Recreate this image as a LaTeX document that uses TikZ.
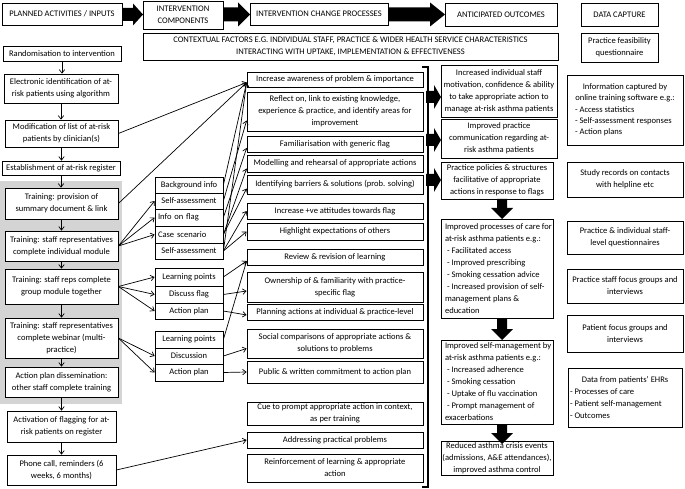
\documentclass[tikz,border=0pt]{standalone}
\usepackage{fontspec}
\setmainfont{Carlito}
\usetikzlibrary{arrows.meta}
\newcommand\fs{\fontsize{8.55}{12}\selectfont}
\tikzset{
 box/.style={draw, line width=0.75pt, fill=white, inner sep=1pt, align=center, font=\fs},
 arr/.style={-{Straight Barb[length=3.5pt,width=5.5pt]}, line width=0.7pt},
 bigarrow/.style={fill=black},
 bracketline/.style={line width=1.2pt},
}
% \bx[style]{name}{x1}{y1}{x2}{y2}{text}
\newcommand\bx[7][]{%
 \pgfmathsetmacro\bxw{#5-#3}\pgfmathsetmacro\bxh{#6-#4}%
 \pgfmathsetmacro\bxx{(#3+#5)/2}\pgfmathsetmacro\bxy{(#4+#6)/2}%
 \node[box,minimum width=\bxw pt,minimum height=\bxh pt,#1] (#2) at (\bxx,\bxy) {#7};}
% right arrow: x-start, head-start, tip, y-centre, shaft half, head half
\newcommand\rarr[6]{\fill[bigarrow] (#1,#4-#5) -- (#2,#4-#5) -- (#2,#4-#6) -- (#3,#4) -- (#2,#4+#6) -- (#2,#4+#5) -- (#1,#4+#5) -- cycle;}
% down arrow: x-centre, y-start, head-start, tip, shaft half, head half
\newcommand\darr[6]{\fill[bigarrow] (#1-#5,#2) -- (#1-#5,#3) -- (#1-#6,#3) -- (#1,#4) -- (#1+#6,#3) -- (#1+#5,#3) -- (#1+#5,#2) -- cycle;}
\newcommand\itm[2]{\makebox[#1pt][l]{#2}}
\newcommand\lline[2]{\makebox[110pt][l]{\hspace{#1pt}#2}}
\begin{document}
\begin{tikzpicture}[x=1pt,y=-1pt]
\useasboundingbox (0,0) rectangle (685,489);
% ---------- header ----------
\bx{H1}{2}{3}{122}{25}{PLANNED ACTIVITIES / INPUTS}
\bx{H2}{143}{1}{223}{29}{INTERVENTION\\COMPONENTS}
\bx{H3}{250}{3}{388}{25}{INTERVENTION CHANGE PROCESSES}
\bx{H4}{445}{3}{557}{26}{ANTICIPATED OUTCOMES}
\bx{H5}{581}{3}{658}{26}{DATA CAPTURE}
\rarr{122}{133}{143}{14.5}{6.5}{11}
\rarr{223}{238}{250}{14.5}{7}{12}
\rarr{388}{430}{445}{14.5}{7}{12}
\bx{CTX}{143}{33}{558}{60}{CONTEXTUAL FACTORS E.G. INDIVIDUAL STAFF, PRACTICE \& WIDER HEALTH SERVICE CHARACTERISTICS\\INTERACTING WITH UPTAKE, IMPLEMENTATION \& EFFECTIVENESS}
% ---------- left column ----------
\fill[black!17] (0,181) rectangle (122,404);
\bx{L1}{3}{46}{121}{61}{Randomisation to intervention}
\bx{L2}{4}{74}{118}{103}{Electronic identification of at-\\risk patients using algorithm}
\bx{L3}{5}{120}{118}{147}{Modification of list of at-risk\\patients by clinician(s)}
\bx{L4}{2}{161}{120}{175}{Establishment of at-risk register}
\bx{T1}{5}{188}{118}{219}{Training: provision of\\summary document \& link}
\bx{T2}{5}{231}{118}{261}{Training: staff representatives\\complete individual module}
\bx{T3}{5}{269}{118}{304}{Training: staff reps complete\\group module together}
\bx{T4}{5}{318}{118}{358}{Training: staff representatives\\complete webinar (multi-\\practice)}
\bx{L5}{5}{367}{118}{397}{Action plan dissemination:\\other staff complete training}
\bx{L6}{7}{411}{116}{442}{Activation of flagging for at-\\risk patients on register}
\bx{L7}{7}{455}{116}{485}{Phone call, reminders (6\\weeks, 6 months)}
\draw[arr] (L1.south) -- (L1.south |- L2.north);
\draw[arr] (L2.south) -- (L2.south |- L3.north);
\draw[arr] (L3.south) -- (L3.south |- L4.north);
\draw[arr] (L4.south) -- (L4.south |- T1.north);
\draw[arr] (T1.south) -- (T1.south |- T2.north);
\draw[arr] (T2.south) -- (T2.south |- T3.north);
\draw[arr] (T3.south) -- (T3.south |- T4.north);
\draw[arr] (T4.south) -- (T4.south |- L5.north);
\draw[arr] (L5.south) -- (L5.south |- L6.north);
\draw[arr] (L6.south) -- (L6.south |- L7.north);
% ---------- components ----------
\bx{A1}{155}{177}{223}{193}{Background info}
\bx{A2}{155}{193}{223}{209}{Self-assessment}
\bx[text width=62pt,align=left]{A3}{155}{209}{223}{226}{Info on flag}
\bx[text width=62pt,align=left]{A4}{155}{226}{223}{243}{Case scenario}
\bx{A5}{155}{243}{223}{259}{Self-assessment}
\bx{B1}{155}{268}{223}{286}{Learning points}
\bx{B2}{155}{286}{223}{303}{Discuss flag}
\bx{B3}{155}{303}{223}{319}{Action plan}
\bx{C1}{155}{331}{223}{348}{Learning points}
\bx{C2}{155}{348}{223}{364}{Discussion}
\bx{C3}{155}{364}{223}{381}{Action plan}
% ---------- change processes ----------
\bx{P1}{247}{72}{423}{87}{Increase awareness of problem \& importance}
\bx{P2}{247}{92}{423}{131}{Reflect on, link to existing knowledge,\\experience \& practice, and identify areas for\\improvement}
\bx{P3}{247}{136}{423}{152}{Familiarisation with generic flag}
\bx{P4}{247}{155}{423}{172}{Modelling and rehearsal of appropriate actions}
\bx{P5}{247}{175}{423}{194}{Identifying barriers \& solutions (prob. solving)}
\bx{P6}{247}{203}{423}{219}{Increase +ve attitudes towards flag}
\bx{P7}{247}{223}{423}{240}{Highlight expectations of others}
\bx{P8}{247}{249}{423}{265}{Review \& revision of learning}
\bx{P9}{247}{272}{423}{302}{Ownership of \& familiarity with practice-\\specific flag}
\bx{P10}{247}{304}{423}{320}{Planning actions at individual \& practice-level}
\bx{P11}{247}{329}{423}{358}{Social comparisons of appropriate actions \&\\solutions to problems}
\bx{P12}{247}{361}{423}{383}{Public \& written commitment to action plan}
\bx{P13}{247}{402}{423}{425}{Cue to prompt appropriate action in context,\\as per training}
\bx{P14}{247}{432}{423}{448}{Addressing practical problems}
\bx{P15}{247}{454}{423}{482}{Reinforcement of learning \& appropriate\\action}
\draw[bracketline] (422,67) -- (428,67) -- (428,487) -- (422,487);
% ---------- outcomes ----------
\bx{O1}{441}{65}{557}{117}{Increased individual staff\\motivation, confidence \& ability\\to take appropriate action to\\manage at-risk asthma patients}
\bx{O2}{441}{119}{557}{158}{Improved practice\\communication regarding at-\\risk asthma patients}
\bx{O3}{441}{162}{553}{199}{Practice policies \& structures\\facilitative of appropriate\\actions in response to flags}
\bx[inner sep=0pt]{O4}{441}{219}{553}{318}{\lline{3}{Improved processes of care for}\\\lline{3}{at-risk asthma patients e.g.:}\\\lline{5}{- Facilitated access}\\\lline{5}{- Improved prescribing}\\\lline{5}{- Smoking cessation advice}\\\lline{5}{- Increased provision of self-}\\\lline{3}{management plans \&}\\\lline{3}{education}}
\bx[inner sep=0pt]{O5}{441}{340}{553}{424}{\lline{3}{Improved self-management by}\\\lline{3}{at-risk asthma patients e.g.:}\\\lline{5}{- Increased adherence}\\\lline{5}{- Smoking cessation}\\\lline{5}{- Uptake of flu vaccination}\\\lline{5}{- Prompt management of}\\\lline{3}{exacerbations}}
\bx{O6}{441}{444}{553}{473}{Reduced asthma crisis events\\(admissions, A\&E attendances),\\improved asthma control}
\rarr{426}{434}{441}{97}{6}{12}
\rarr{426}{434}{441}{140}{6}{12}
\rarr{426}{434}{441}{180}{6}{12}
\darr{502}{199}{208}{219}{5}{11}
\darr{502}{318}{329}{340}{5}{11}
\darr{502}{424}{433}{444}{5}{11}
% ---------- data capture ----------
\bx{D1}{581}{33}{658}{62}{Practice feasibility\\questionnaire}
\bx[font=\fontsize{8.55}{11.3}\selectfont]{D2}{567}{75}{683}{145}{Information captured by\\online training software e.g.:\\\itm{104}{\hspace{2pt}- Access statistics}\\\itm{104}{\hspace{2pt}- Self-assessment responses}\\\itm{104}{\hspace{2pt}- Action plans}}
\bx{D3}{567}{162}{683}{197}{Study records on contacts\\with helpline etc}
\bx{D4}{567}{221}{683}{254}{Practice \& individual staff-\\level questionnaires}
\bx{D5}{567}{269}{683}{303}{Practice staff focus groups and\\interviews}
\bx{D6}{567}{315}{683}{352}{Patient focus groups and\\interviews}
\bx{D7}{568}{368}{682}{427}{Data from patients' EHRs\\\itm{110}{- Processes of care}\\\itm{110}{- Patient self-management}\\\itm{110}{- Outcomes}}
% ---------- connectors ----------
\draw[arr] (T2.east) -- (A2.west);
\draw[arr] (T2.east) -- (A3.west);
\draw[arr] (T2.east) -- (A4.west);
\draw[arr] (T3.east) -- (B1.west);
\draw[arr] (T3.east) -- (B2.west);
\draw[arr] (T3.east) -- (B3.west);
\draw[arr] (T4.east) -- (C2.west);
\draw[arr] (T4.east) -- (C3.west);
\draw[arr] (L3.east) -- ([yshift=-3pt]P1.west);
\draw[arr] (T1.east) -- ([yshift=-3pt]P1.west);
\draw[arr] (A1.east) -- ([yshift=-3pt]P1.west);
\draw[arr] (A5.east) -- ([yshift=-3pt]P1.west);
\draw[arr] (A2.east) -- ([yshift=-9pt]P2.west);
\draw[arr] (A3.east) -- ([yshift=-4pt]P3.west);
\draw[arr] (A4.east) -- ([yshift=-5pt]P4.west);
\draw[arr] (A4.east) -- ([yshift=-4pt]P5.west);
\draw[arr] (A5.east) -- (P6.west);
\draw[arr] (A5.east) -- (P7.west);
\draw[arr] (B1.east) -- ([yshift=-4pt]P8.west);
\draw[arr] (C1.east) -- ([yshift=-4pt]P8.west);
\draw[arr] (B2.east) -- ([yshift=-4pt]P9.west);
\draw[arr] (B3.east) -- ([yshift=-3pt]P10.west);
\draw[arr] (C2.east) -- ([yshift=-5pt]P11.west);
\draw[arr] (C3.east) -- (P12.west);
\draw[arr] (L7.east) -- (P14.west);
\end{tikzpicture}
\end{document}
